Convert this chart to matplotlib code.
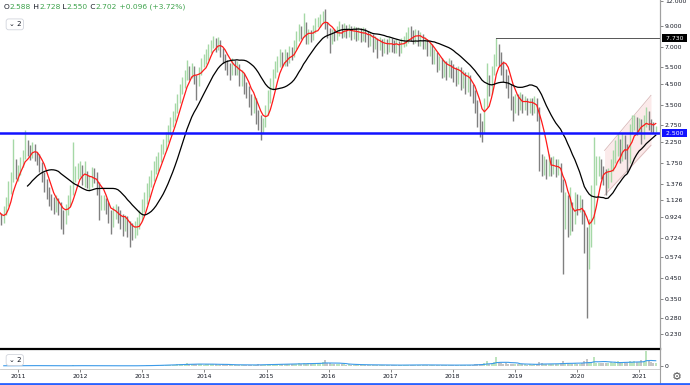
import numpy as np
import pandas as pd
import matplotlib
matplotlib.use("Agg")
import matplotlib.pyplot as plt
import matplotlib.dates as mdates
from matplotlib.lines import Line2D
from matplotlib.transforms import blended_transform_factory

# bi-weekly bars
bar_start = "2010-06-04"

closes = [1.20, 1.15, 1.10, 1.05, 1.00, 0.95, 0.90, 0.92, 0.90, 0.98,
          1.10, 1.30, 1.45, 1.75, 1.55, 1.60, 1.75, 1.90, 2.15, 2.05,
          1.95, 2.10, 1.90, 1.85, 1.70, 1.50, 1.35, 1.25, 1.15, 1.10,
          1.05, 1.10, 1.05, 0.95, 0.90, 1.00, 1.10, 1.25, 1.50, 1.55,
          1.60, 1.65, 1.45, 1.50, 1.40, 1.40, 1.55, 1.50, 1.35, 1.10,
          1.10, 1.10, 1.05, 0.95, 0.88, 1.00, 1.00, 0.95, 0.90, 0.85,
          0.88, 0.82, 0.80, 0.78, 0.80, 0.85, 0.92, 1.05, 1.15, 1.25,
          1.40, 1.50, 1.65, 1.70, 1.85, 2.05, 2.15, 2.40, 2.55, 2.85,
          3.00, 3.35, 3.70, 4.20, 4.50, 4.90, 5.30, 5.00, 5.40, 4.80,
          4.60, 5.20, 5.80, 6.00, 6.30, 6.80, 7.20, 7.60, 7.00, 7.40,
          6.60, 6.20, 5.70, 5.50, 5.20, 5.70, 5.40, 5.50, 4.80, 4.90,
          4.40, 4.20, 3.80, 3.50, 3.60, 3.10, 2.90, 2.70, 2.80, 3.20,
          3.80, 4.40, 5.00, 5.40, 5.80, 6.20, 5.90, 6.30, 6.00, 6.60,
          6.40, 7.00, 7.80, 8.50, 8.20, 9.00, 7.60, 8.10, 7.90, 8.60,
          9.20, 9.40, 9.80, 10.2, 9.00, 8.40, 7.60, 8.20, 8.00, 8.50,
          8.80, 8.30, 8.70, 8.40, 8.60, 8.20, 8.50, 8.10, 8.40, 8.00,
          8.30, 8.10, 7.70, 7.90, 7.30, 7.60, 7.20, 7.50, 6.90, 7.40,
          7.00, 7.50, 7.20, 7.10, 7.30, 6.90, 7.40, 7.60, 7.80, 8.30,
          8.00, 7.80, 8.20, 7.70, 7.90, 7.40, 7.50, 6.90, 7.00, 6.30,
          6.40, 5.80, 5.90, 5.40, 5.60, 5.30, 5.80, 5.40, 5.20, 5.00,
          5.30, 4.80, 5.00, 4.60, 4.90, 4.30, 4.00, 3.50, 3.00, 2.70,
          2.60, 3.60, 4.60, 4.20, 5.20, 5.80, 6.80, 6.20, 5.60, 5.20,
          4.80, 4.30, 3.70, 3.40, 3.80, 3.50, 3.90, 3.60, 3.70, 3.40,
          3.60, 3.50, 3.60, 3.20, 1.80, 1.70, 1.75, 1.60, 1.80, 1.65,
          1.75, 1.60, 1.70, 1.40, 0.95, 1.10, 0.85, 1.00, 0.90, 1.15,
          1.05, 1.10, 0.95, 0.75, 0.55, 0.70, 1.20, 1.40, 1.65, 1.75,
          1.60, 1.55, 1.45, 1.50, 1.70, 1.85, 2.00, 2.20, 1.90, 2.30,
          2.10, 1.80, 2.60, 2.80, 2.95, 2.60, 2.85, 2.40, 2.90, 3.20,
          2.75, 2.70, 2.606, 2.702]

highs = [1.28, 1.26, 1.20, 1.15, 1.10, 1.04, 0.99, 0.98, 0.97, 1.05,
         1.18, 1.42, 1.58, 2.35, 1.85, 1.72, 1.88, 2.05, 2.60, 2.30,
         2.18, 2.25, 2.20, 2.00, 1.95, 1.78, 1.58, 1.45, 1.32, 1.22,
         1.18, 1.20, 1.16, 1.10, 1.00, 1.08, 1.20, 1.35, 2.25, 1.70,
         1.75, 1.80, 1.72, 1.80, 1.60, 1.52, 1.68, 1.65, 1.58, 1.40,
         1.20, 1.20, 1.16, 1.10, 1.00, 1.06, 1.08, 1.05, 1.00, 0.96,
         0.95, 0.94, 0.88, 0.86, 0.88, 0.92, 1.00, 1.15, 1.25, 1.38,
         1.50, 1.62, 1.80, 1.90, 2.00, 2.20, 2.35, 2.55, 2.75, 3.05,
         3.25, 3.60, 4.00, 4.50, 4.90, 5.30, 6.00, 5.60, 5.80, 5.60,
         5.00, 5.50, 6.10, 6.40, 6.80, 7.20, 7.60, 8.00, 7.80, 7.90,
         7.60, 6.90, 6.40, 6.00, 5.80, 6.10, 6.00, 5.90, 5.70, 5.30,
         5.10, 4.60, 4.40, 4.00, 3.90, 3.80, 3.30, 3.10, 3.00, 3.50,
         4.20, 4.80, 5.40, 5.90, 6.30, 6.80, 6.60, 6.80, 6.60, 7.10,
         7.00, 7.60, 8.40, 9.20, 9.00, 10.5, 9.40, 8.60, 8.50, 9.10,
         9.80, 10.0, 10.3, 10.7, 11.0, 9.40, 8.70, 8.60, 8.60, 9.00,
         9.50, 9.20, 9.30, 9.10, 9.20, 9.00, 9.00, 8.80, 8.90, 8.70,
         8.80, 8.70, 8.40, 8.30, 8.10, 8.00, 7.80, 7.90, 7.70, 7.80,
         7.70, 7.90, 7.80, 7.60, 7.70, 7.50, 7.80, 8.00, 8.30, 8.80,
         9.00, 8.50, 8.60, 8.50, 8.30, 8.10, 7.90, 7.70, 7.40, 7.20,
         6.80, 6.60, 6.30, 6.10, 6.00, 5.90, 6.10, 6.00, 5.70, 5.50,
         5.60, 5.50, 5.30, 5.20, 5.20, 5.00, 4.50, 4.20, 3.70, 3.20,
         2.90, 3.80, 5.80, 5.00, 5.60, 6.40, 7.73, 7.20, 6.60, 5.90,
         5.40, 5.00, 4.50, 3.90, 4.00, 4.00, 4.10, 4.00, 3.90, 3.80,
         3.80, 3.80, 3.90, 3.80, 3.40, 1.95, 1.90, 1.85, 1.95, 1.88,
         1.90, 1.85, 1.85, 1.75, 1.45, 1.25, 1.20, 1.32, 1.10, 1.25,
         1.22, 1.20, 1.15, 1.00, 0.82, 0.90, 1.35, 2.40, 1.90, 1.90,
         1.85, 1.70, 1.63, 1.65, 1.85, 2.05, 2.30, 2.50, 2.35, 2.50,
         2.45, 2.20, 2.80, 3.10, 3.10, 3.05, 3.00, 2.95, 3.10, 3.40,
         3.25, 2.95, 2.85, 2.728]

lows = [1.12, 1.10, 1.04, 0.99, 0.94, 0.90, 0.85, 0.86, 0.84, 0.86,
        0.95, 1.06, 1.22, 1.40, 1.45, 1.42, 1.52, 1.68, 1.85, 1.92,
        1.82, 1.86, 1.80, 1.72, 1.58, 1.40, 1.25, 1.15, 1.05, 1.00,
        0.96, 0.98, 0.95, 0.80, 0.76, 0.85, 0.95, 1.05, 1.20, 1.40,
        1.45, 1.48, 1.35, 1.32, 1.30, 1.28, 1.32, 1.38, 1.20, 0.89,
        1.00, 1.00, 0.96, 0.86, 0.76, 0.82, 0.90, 0.86, 0.80, 0.74,
        0.78, 0.73, 0.65, 0.70, 0.72, 0.75, 0.80, 0.88, 0.98, 1.08,
        1.18, 1.32, 1.42, 1.55, 1.60, 1.78, 1.95, 2.05, 2.25, 2.45,
        2.70, 2.90, 3.20, 3.60, 4.00, 4.30, 4.70, 4.70, 4.80, 4.50,
        3.70, 4.40, 5.00, 5.50, 5.70, 6.00, 6.50, 6.90, 6.60, 6.70,
        6.20, 5.80, 5.30, 5.00, 4.70, 5.00, 5.00, 5.00, 4.40, 4.40,
        4.00, 3.80, 3.40, 3.10, 3.20, 2.80, 2.60, 2.30, 2.50, 2.70,
        3.10, 3.60, 4.20, 4.80, 5.20, 5.50, 5.50, 5.60, 5.60, 5.80,
        6.00, 6.20, 6.80, 7.50, 7.70, 7.90, 7.20, 7.20, 7.40, 7.60,
        8.20, 8.80, 8.90, 9.30, 8.60, 7.80, 6.50, 7.20, 7.50, 7.60,
        8.00, 7.80, 7.90, 7.80, 7.90, 7.60, 7.70, 7.50, 7.60, 7.40,
        7.50, 7.40, 7.00, 7.10, 6.60, 6.80, 6.10, 6.70, 6.30, 6.50,
        6.40, 6.60, 6.60, 6.50, 6.50, 6.30, 6.50, 7.00, 7.10, 7.30,
        7.50, 7.20, 7.30, 7.10, 7.10, 6.80, 6.80, 6.30, 6.30, 5.70,
        5.70, 5.20, 5.30, 4.80, 4.90, 4.70, 4.90, 4.80, 4.60, 4.40,
        4.50, 4.20, 4.30, 4.00, 4.10, 3.90, 3.60, 3.20, 2.70, 2.40,
        2.25, 2.50, 3.40, 3.90, 4.00, 5.00, 5.60, 5.60, 5.00, 4.60,
        4.30, 3.80, 3.30, 2.90, 3.20, 3.10, 3.30, 3.20, 3.30, 3.10,
        3.20, 3.10, 3.20, 2.90, 1.60, 1.50, 1.52, 1.45, 1.50, 1.50,
        1.55, 1.48, 1.52, 1.25, 0.47, 0.80, 0.73, 0.75, 0.78, 0.85,
        0.95, 0.98, 0.85, 0.60, 0.28, 0.50, 0.65, 0.85, 1.35, 1.50,
        1.45, 1.35, 1.20, 1.30, 1.40, 1.60, 1.75, 1.90, 1.75, 1.80,
        1.85, 1.57, 1.75, 2.50, 2.60, 2.45, 2.50, 2.20, 2.35, 2.70,
        2.60, 2.55, 2.50, 2.550]

volumes = [2, 1, 2, 1, 1, 2, 1, 2, 1, 2,
           3, 2, 2, 4, 2, 2, 3, 2, 3, 2,
           2, 3, 2, 2, 1, 2, 2, 1, 2, 1,
           1, 2, 1, 2, 1, 2, 2, 3, 4, 2,
           2, 2, 1, 2, 2, 1, 2, 2, 1, 2,
           1, 1, 2, 1, 2, 1, 1, 2, 1, 1,
           2, 1, 2, 1, 1, 2, 2, 3, 3, 4,
           4, 5, 4, 5, 6, 5, 7, 6, 8, 7,
           9, 8, 12, 10, 14, 11, 18, 12, 15, 10,
           14, 10, 12, 9, 13, 11, 15, 12, 10, 9,
           8, 10, 7, 9, 6, 8, 7, 6, 8, 6,
           7, 6, 8, 7, 9, 6, 10, 8, 7, 9,
           11, 13, 12, 15, 12, 14, 11, 13, 15, 12,
           14, 16, 13, 18, 15, 22, 14, 17, 15, 19,
           16, 20, 18, 24, 37, 20, 17, 15, 13, 14,
           12, 10, 11, 9, 10, 8, 9, 7, 8, 9,
           7, 8, 6, 7, 8, 6, 7, 5, 6, 7,
           6, 5, 7, 6, 5, 6, 5, 7, 6, 8,
           7, 9, 6, 8, 7, 6, 8, 7, 6, 5,
           6, 7, 5, 6, 5, 7, 6, 5, 6, 5,
           6, 5, 7, 6, 8, 7, 9, 10, 12, 15,
           14, 18, 32, 16, 22, 25, 60, 22, 18, 15,
           18, 15, 14, 12, 13, 11, 12, 10, 11, 9,
           10, 9, 11, 12, 25, 18, 14, 15, 12, 13,
           11, 12, 14, 20, 35, 22, 18, 15, 16, 20,
           15, 12, 20, 35, 45, 25, 28, 60, 22, 18,
           22, 20, 18, 22, 25, 20, 24, 30, 26, 28,
           20, 22, 30, 28, 32, 25, 28, 38, 30, 100,
           30, 25, 22, 20]

last_open, last_high, last_low, last_close = 2.588, 2.728, 2.550, 2.702
change, change_pct = 0.096, 3.72
support = 2.5
price_ticks = [12, 9, 7, 5.5, 4.5, 3.5, 2.75, 2.25, 1.75, 1.376, 1.126,
               0.924, 0.724, 0.574, 0.45, 0.35, 0.28, 0.23]
channel_dates = ["2020-06-12", "2021-03-12"]
channel_upper = [2.04, 3.93]
channel_lower = [1.20, 2.17]

dates = pd.date_range(bar_start, periods=len(closes), freq="14D")
cl = pd.Series(closes, index=dates)
ma_fast = cl.rolling(6).mean()
ma_slow = cl.rolling(20).mean()
vol_ma = pd.Series(volumes, index=dates).rolling(10).mean()
up = np.r_[True, np.diff(closes) >= 0]

dark = "#131722"
green = "#3fa34d"

fig = plt.figure(figsize=(6.9, 3.85), dpi=100)
ax = fig.add_axes([0, 0.0961, 0.9565, 0.9039])
axv = fig.add_axes([0, 0.0416, 0.9565, 0.0519], sharex=ax)

# price bars
ax.vlines(dates, lows, highs, colors=np.where(up, "#a5d8a6", "#808080"),
          linewidth=1.0, zorder=2)
ax.plot(dates, ma_fast, color="#ff1a1a", lw=0.9, zorder=4)
ax.plot(dates, ma_slow, color="black", lw=0.9, zorder=4)

# channel
cd = pd.to_datetime(channel_dates)
ax.fill_between(cd, channel_lower, channel_upper, color="#f9dcdc", alpha=0.6, lw=0, zorder=1)
ax.plot(cd, channel_upper, color="#d9b8b8", lw=0.6, zorder=1)
ax.plot(cd, channel_lower, color="#d9b8b8", lw=0.6, zorder=1)

x_left, x_right = pd.Timestamp("2010-09-16"), pd.Timestamp("2021-05-04")
ax.set_xlim(x_left, x_right)

# horizontal levels
ax.axhline(support, color="#1212ff", lw=1.8, zorder=5)
i_top = 200 + int(np.argmax(highs[200:]))
ax.plot([dates[i_top], x_right], [highs[i_top]] * 2, color="#555555", lw=0.7, zorder=5)

ax.set_yscale("log")
ax.set_ylim(0.195, 12.2)
ax.yaxis.tick_right()
ax.set_yticks(price_ticks)
ax.set_yticklabels(["%.3f" % v for v in price_ticks])
ax.yaxis.set_minor_locator(matplotlib.ticker.NullLocator())
ax.tick_params(axis="y", labelsize=4.4, length=2, width=0.5, pad=1.5,
               colors="#555555", labelcolor=dark)
ax.tick_params(axis="x", which="both", length=0, labelbottom=False)
for s in ["top", "left", "bottom"]:
    ax.spines[s].set_visible(False)
ax.spines["right"].set_color("#a0a0a0")
ax.spines["right"].set_linewidth(0.8)

# price labels on the scale
tr = blended_transform_factory(ax.transAxes, ax.transData)
ax.text(1.006, highs[i_top], " 7.730 ", transform=tr, fontsize=4.4, color="white",
        va="center", ha="left", bbox=dict(boxstyle="square,pad=0.25", fc="black", ec="none"))
ax.text(1.006, support, " 2.500 ", transform=tr, fontsize=4.4, color="white",
        va="center", ha="left", bbox=dict(boxstyle="square,pad=0.25", fc="#1212ff", ec="none"))

# legend line
parts = [("O", dark), ("%.3f" % last_open, green), (" H", dark), ("%.3f" % last_high, green),
         (" L", dark), ("%.3f" % last_low, green), (" C", dark), ("%.3f" % last_close, green),
         (" +%.3f (+%.2f%%)" % (change, change_pct), green)]
t = ax.text(0.006, 0.989, parts[0][0], transform=ax.transAxes, color=parts[0][1],
            fontsize=5.4, va="top", ha="left")
for s, c in parts[1:]:
    t = ax.annotate(s, xy=(1, 0), xycoords=t, va="bottom", ha="left", color=c, fontsize=5.4)
box = dict(boxstyle="round,pad=0.35", fc="white", ec="#d1d4dc", lw=0.6)
ax.text(0.013, 0.93, "\u2304 2", transform=ax.transAxes, fontsize=5, color=dark,
        va="center", ha="left", bbox=box)

# volume pane
axv.vlines(dates, 0, volumes, colors=np.where(up, "#a9dcaa", "#b4b4b4"), linewidth=1.1)
axv.plot(dates, vol_ma, color="#3d9be9", lw=0.8)
axv.set_ylim(-20, 113)
axv.yaxis.tick_right()
axv.set_yticks([0])
axv.set_yticklabels(["0"])
axv.tick_params(axis="y", labelsize=4.4, length=2, width=0.5, pad=1.5,
                colors="#555555", labelcolor=dark)
axv.xaxis.set_major_locator(mdates.YearLocator())
axv.xaxis.set_major_formatter(mdates.DateFormatter("%Y"))
axv.tick_params(axis="x", labelsize=4.4, length=2, width=0.5, pad=1.5,
                colors="#555555", labelcolor=dark)
axv.spines["left"].set_visible(False)
axv.spines["top"].set_color("black")
axv.spines["top"].set_linewidth(1.6)
axv.spines["bottom"].set_color("#c8c8c8")
axv.spines["bottom"].set_linewidth(0.6)
axv.spines["right"].set_color("#a0a0a0")
axv.spines["right"].set_linewidth(0.8)
axv.text(0.013, 0.45, "\u2304 2", transform=axv.transAxes, fontsize=5, color=dark,
         va="center", ha="left", bbox=box)

fig.add_artist(Line2D([660 / 690] * 2, [0, 1], color="#a0a0a0", lw=0.8))
fig.add_artist(Line2D([0, 1], [0.003, 0.003], color="#2962ff", lw=2))
fig.text(677 / 690, 1 - 377 / 385, "\u2699", fontsize=8, color="#555555",
         ha="center", va="center")

fig.savefig("out.png", dpi=100)
